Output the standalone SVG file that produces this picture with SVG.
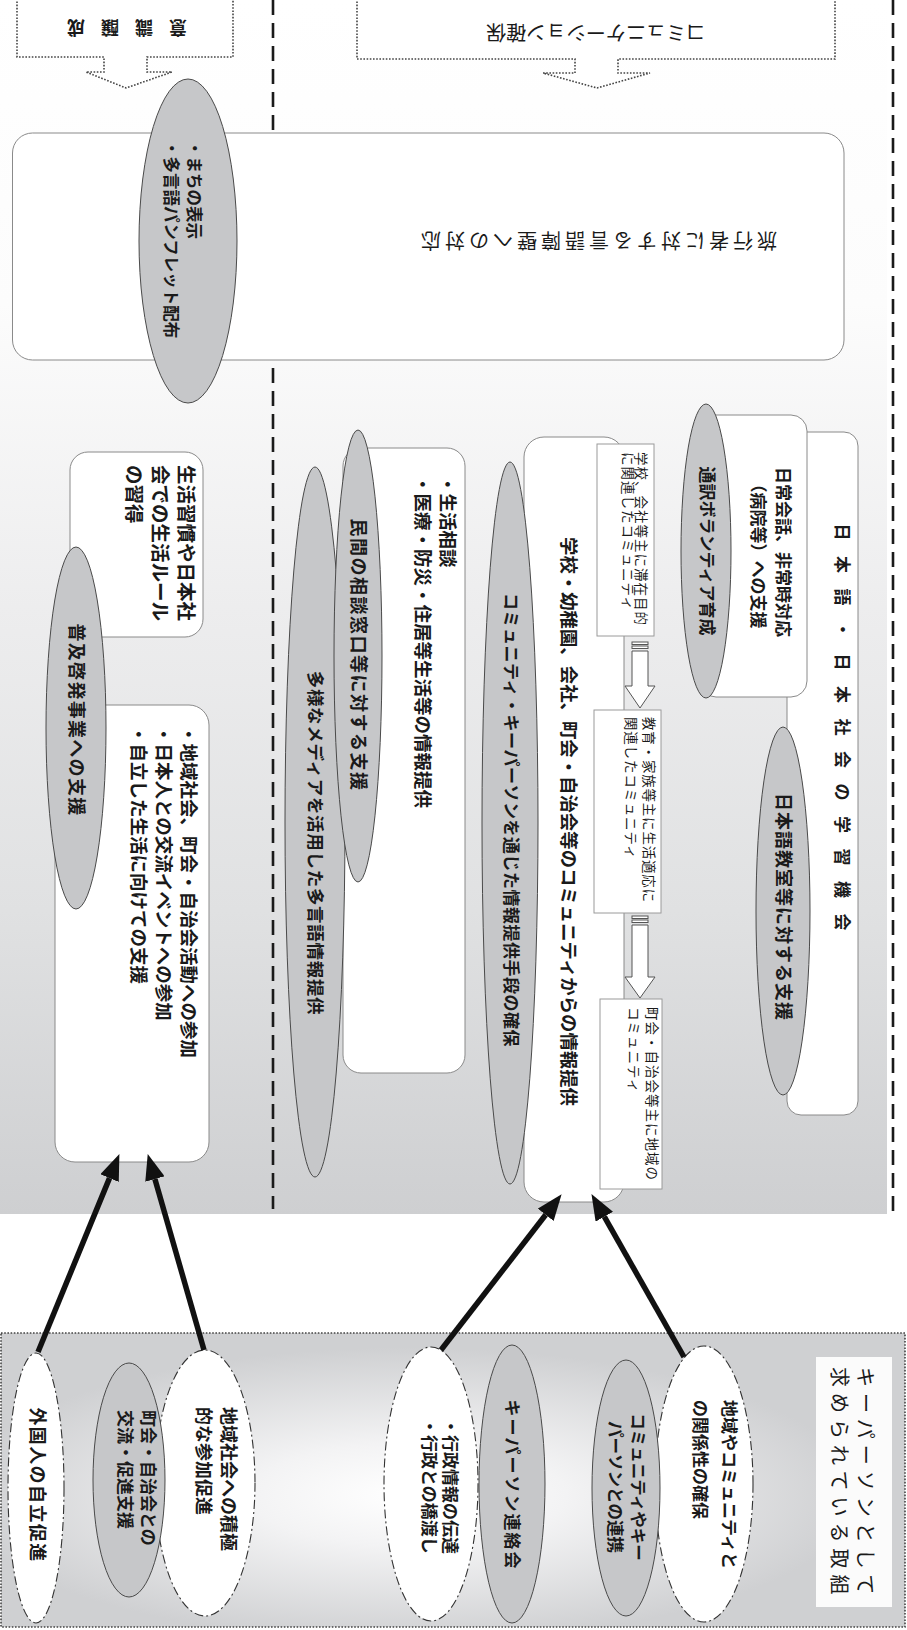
<svg xmlns="http://www.w3.org/2000/svg" width="907" height="1630" viewBox="0 0 907 1630">
<defs>
<linearGradient id="bg" x1="0" y1="0" x2="0" y2="1">
<stop offset="0" stop-color="#ffffff"/>
<stop offset="0.25" stop-color="#fcfcfc"/>
<stop offset="0.5" stop-color="#ededee"/>
<stop offset="0.75" stop-color="#e0e1e2"/>
<stop offset="1" stop-color="#cecfd1"/>
</linearGradient>
<radialGradient id="bg2" cx="0.45" cy="0.55" r="0.5">
<stop offset="0" stop-color="#ffffff"/>
<stop offset="0.35" stop-color="#f3f3f4"/>
<stop offset="1" stop-color="#cfd0d2"/>
</radialGradient>
<marker id="ah" markerUnits="userSpaceOnUse" markerWidth="26" markerHeight="20" refX="0" refY="10" orient="auto"><path d="M0,0 L26,10 L0,20 z" fill="#111"/></marker>
<style>
.t{font-family:"Liberation Sans","Noto Sans CJK JP",sans-serif;fill:#1a1a1a;dominant-baseline:central}
.b{font-weight:bold}
.m{text-anchor:middle}
.rr{fill:#fff;stroke:#8a8a8a;stroke-width:1}
.sb{fill:#fff;stroke:#9a9a9a;stroke-width:1}
.ge{fill:#c6c7c9;stroke:#4a4a4a;stroke-width:1}
.we{fill:#fff;stroke:#333;stroke-width:1.1;stroke-dasharray:9 3 2 3}
.dot{fill:#fff;stroke:#444;stroke-width:1.6;stroke-dasharray:1.6 1.6}
.dash{stroke:#1a1a1a;stroke-width:2.6;stroke-dasharray:15 8;fill:none}
.arr{stroke:#111;stroke-width:5.5;fill:none;marker-end:url(#ah)}
.blk{fill:#fff;stroke:#555;stroke-width:1}
</style>
</defs>

<rect x="0" y="0" width="887" height="1214" fill="url(#bg)"/>
<line class="dash" x1="273" y1="0" x2="273" y2="1209"/>
<line class="dash" x1="893" y1="0" x2="893" y2="1213"/>

<g id="n-ishiki">
<path class="dot" d="M17,-5 L17,57 L104,57 L104,72 L86,72 L126,88 L172,72 L147,72 L147,57 L233,57 L233,-5"/>
<text class="t b m" font-size="18" transform="translate(178,27) rotate(180)" x="0 34 68 102" y="0">意識醸成</text>
</g>

<g id="n-comm">
<path class="dot" d="M357,-5 L357,59 L575,59 L575,73 L543,73 L597,88 L650,73 L618,73 L618,59 L835,59 L835,-5"/>
<text class="t m" font-size="20" transform="translate(596,32) rotate(180)">コミュニケーション確保</text>
</g>

<g id="n-ryokou">
<rect class="rr" x="12.5" y="133" width="831.5" height="227" rx="20"/>
<text class="t m" font-size="20" letter-spacing="4" transform="translate(597,240) rotate(180)">旅行者に対する言語障壁への対応</text>
</g>

<g id="n-machi">
<ellipse class="ge" cx="188" cy="241" rx="49" ry="162"/>
<text class="t b" font-size="16.5" transform="translate(194,140) rotate(90)"><tspan x="0" dy="0">・まちの表示</tspan><tspan x="0" dy="23">・多言語パンフレット配布</tspan></text>
</g>

<g id="n-nihongo">
<rect class="rr" x="787" y="432" width="71" height="683" rx="14"/>
<text class="t b" font-size="17" letter-spacing="15.5" transform="translate(841,523.5) rotate(90)">日本語・日本社会の学習機会</text>
</g>

<g id="n-nichijo">
<rect class="rr" x="700" y="415" width="107" height="282" rx="16"/>
<text class="t b m" font-size="17" transform="translate(783,552) rotate(90)"><tspan x="0" dy="0">日常会話、非常時対応</tspan><tspan x="0" dy="25">（病院等）への支援</tspan></text>
</g>

<g id="n-tsuyaku">
<ellipse class="ge" cx="706" cy="551" rx="25" ry="147"/>
<text class="t b m" font-size="17" transform="translate(706,551) rotate(90)">通訳ボランティア育成</text>
</g>

<g id="n-kyoushitsu">
<ellipse class="ge" cx="783" cy="911" rx="27" ry="184"/>
<text class="t b m" font-size="18" letter-spacing="1" transform="translate(783,907) rotate(90)">日本語教室等に対する支援</text>
</g>

<g id="n-gakkou">
<rect class="rr" x="524" y="437" width="100" height="765" rx="20"/>
<text class="t b" font-size="18.4" transform="translate(568,537) rotate(90)">学校・幼稚園、会社、町会・自治会等のコミュニティからの情報提供</text>
</g>

<g id="n-box1">
<rect class="sb" x="597" y="444" width="57" height="192"/>
<text class="t" font-size="13.5" letter-spacing="1" transform="translate(641,452) rotate(90)"><tspan x="0" dy="0">学校、会社等主に滞在目的</tspan><tspan x="0" dy="13">に関連したコミュニティ</tspan></text>
</g>

<g id="n-box2">
<rect class="sb" x="594" y="710" width="67" height="203"/>
<text class="t" font-size="13.5" letter-spacing="0.8" transform="translate(649,717) rotate(90)"><tspan x="0" dy="0">教育・家族等主に生活適応に</tspan><tspan x="0" dy="18">関連したコミュニティ</tspan></text>
</g>

<g id="n-box3">
<rect class="sb" x="600" y="999" width="62" height="190"/>
<text class="t" font-size="13.5" letter-spacing="1" transform="translate(652,1007) rotate(90)"><tspan x="0" dy="0">町会・自治会等主に地域の</tspan><tspan x="0" dy="18">コミュニティ</tspan></text>
</g>

<g id="n-keeper">
<ellipse class="ge" cx="510" cy="823" rx="28" ry="361"/>
<text class="t b m" font-size="17" letter-spacing="0.5" transform="translate(510,820) rotate(90)">コミュニティ・キーパーソンを通じた情報提供手段の確保</text>
</g>

<g id="n-seikatsu">
<rect class="rr" x="343" y="448" width="122" height="625" rx="18"/>
<text class="t b" font-size="18.5" transform="translate(448,475) rotate(90)"><tspan x="0" dy="0">・生活相談</tspan><tspan x="0" dy="25">・医療・防災・住居等生活等の情報提供</tspan></text>
</g>

<g id="n-tayou">
<ellipse class="ge" cx="315" cy="822" rx="30" ry="355"/>
<text class="t b m" font-size="17.5" letter-spacing="0.7" transform="translate(315,843) rotate(90)">多様なメディアを活用した多言語情報提供</text>
</g>

<g id="n-minkan">
<ellipse class="ge" cx="358" cy="656" rx="24" ry="226"/>
<text class="t b m" font-size="18" letter-spacing="1.5" transform="translate(358,655) rotate(90)">民間の相談窓口等に対する支援</text>
</g>

<g id="n-shuukan">
<rect class="rr" x="70" y="452" width="133" height="185" rx="18"/>
<text class="t b" font-size="19.5" transform="translate(186,465) rotate(90)"><tspan x="0" dy="0">生活習慣や日本社</tspan><tspan x="0" dy="26">会での生活ルール</tspan><tspan x="0" dy="26">の習得</tspan></text>
</g>

<g id="n-chiiki">
<rect class="rr" x="55" y="705" width="154" height="457" rx="20"/>
<text class="t b" font-size="18.5" transform="translate(189,725) rotate(90)"><tspan x="0" dy="0">・地域社会、町会・自治会活動への参加</tspan><tspan x="0" dy="25">・日本人との交流イベントへの参加</tspan><tspan x="0" dy="25">・自立した生活に向けての支援</tspan></text>
</g>

<g id="n-fukyu">
<ellipse class="ge" cx="76" cy="728" rx="30" ry="181"/>
<text class="t b m" font-size="18" letter-spacing="1.3" transform="translate(76,720) rotate(90)">普及啓発事業への支援</text>
</g>

<g id="n-panel">
<rect x="1" y="1333" width="904" height="294" fill="url(#bg2)" stroke="#444" stroke-width="1.6" stroke-dasharray="1.6 1.6"/>
</g>

<g id="n-label">
<rect x="816" y="1357" width="76" height="250" fill="#fbfbfb"/>
<text class="t" font-size="20" letter-spacing="6" transform="translate(865,1367) rotate(90)"><tspan x="0" dy="0">キーパーソンとして</tspan><tspan x="0" dy="26">求められている取組</tspan></text>
</g>

<g id="n-e1">
<ellipse class="we" cx="704" cy="1484" rx="49" ry="138"/>
<text class="t b" font-size="17" transform="translate(729,1400) rotate(90)"><tspan x="0" dy="0">地域やコミュニティと</tspan><tspan x="0" dy="29">の関係性の確保</tspan></text>
</g>

<g id="n-e2">
<ellipse class="ge" cx="626" cy="1488" rx="34" ry="128"/>
<text class="t b m" font-size="16.5" transform="translate(638,1487) rotate(90)"><tspan x="0" dy="0">コミュニティやキー</tspan><tspan x="0" dy="23">パーソンとの連携</tspan></text>
</g>

<g id="n-e3">
<ellipse class="ge" cx="512" cy="1484" rx="33" ry="139"/>
<text class="t b m" font-size="17" letter-spacing="2" transform="translate(511,1485) rotate(90)">キーパーソン連絡会</text>
</g>

<g id="n-e4">
<ellipse class="we" cx="431" cy="1484" rx="47" ry="137"/>
<text class="t b" font-size="17" transform="translate(450,1418) rotate(90)"><tspan x="0" dy="0">・行政情報の伝達</tspan><tspan x="0" dy="21">・行政との橋渡し</tspan></text>
</g>

<g id="n-e5">
<ellipse class="we" cx="205" cy="1483" rx="50" ry="133"/>
<text class="t b" font-size="18" transform="translate(228,1407) rotate(90)"><tspan x="0" dy="0">地域社会への積極</tspan><tspan x="0" dy="25">的な参加促進</tspan></text>
</g>

<g id="n-e6">
<ellipse class="ge" cx="129" cy="1480" rx="36" ry="117"/>
<text class="t b" font-size="17" transform="translate(148,1410) rotate(90)"><tspan x="0" dy="0">町会・自治会との</tspan><tspan x="0" dy="23">交流・促進支援</tspan></text>
</g>

<g id="n-e7">
<ellipse class="we" cx="36" cy="1488" rx="28" ry="135"/>
<text class="t b m" font-size="18" letter-spacing="1.4" transform="translate(37,1485) rotate(90)">外国人の自立促進</text>
</g>

<g id="connectors">
<rect class="blk" x="632" y="642" width="16" height="2.5"/>
<rect class="blk" x="632" y="646" width="16" height="2.5"/>
<path class="blk" d="M632,651 L648,651 L648,686 L655,686 L640,708 L625,686 L632,686 z"/>
<rect class="blk" x="632" y="916" width="16" height="2.5"/>
<rect class="blk" x="632" y="920" width="16" height="2.5"/>
<path class="blk" d="M632,925 L648,925 L648,977 L655,977 L640,998 L625,977 L632,977 z"/>
<line class="arr" x1="38" y1="1352" x2="109.5" y2="1178.1"/>
<line class="arr" x1="204" y1="1350" x2="154.9" y2="1179"/>
<line class="arr" x1="441" y1="1350" x2="545.7" y2="1214.8"/>
<line class="arr" x1="684" y1="1357" x2="604.3" y2="1216.7"/>
</g>
</svg>
